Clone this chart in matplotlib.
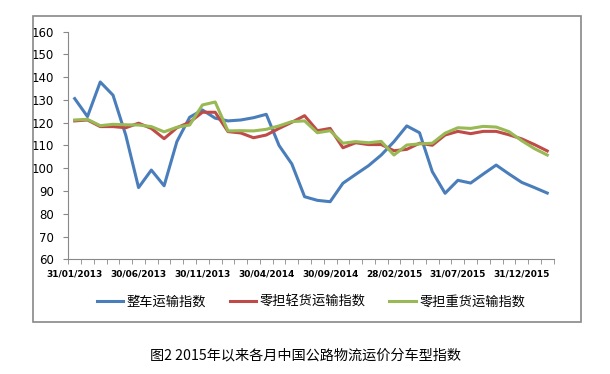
import matplotlib
matplotlib.use("Agg")
import matplotlib.pyplot as plt
from matplotlib.patches import Rectangle
from matplotlib.ticker import MultipleLocator

plt.rcParams['font.family'] = ['Noto Sans CJK SC', 'DejaVu Sans']

# monthly index values, 31/01/2013 .. 29/02/2016
whole_truck = [130.6, 122.7, 137.9, 132.1, 114.5, 91.5, 99.2, 92.3, 111.7, 122.4,
               125.6, 122.0, 120.8, 121.2, 122.2, 123.7, 110.0, 101.9, 87.5, 85.9,
               85.3, 93.4, 97.3, 101.1, 105.8, 111.7, 118.6, 115.6, 98.5, 89.0,
               94.7, 93.5, 97.5, 101.4, 97.5, 93.8, 91.5, 89.1]
ltl_light = [120.8, 121.2, 118.3, 118.3, 117.8, 119.8, 117.5, 113.0, 117.8, 120.2,
             124.6, 124.6, 116.1, 115.5, 113.4, 114.6, 117.5, 120.2, 123.1, 116.5,
             117.5, 109.0, 111.2, 110.4, 110.4, 107.7, 108.3, 111.0, 110.1, 114.6,
             116.2, 115.2, 116.2, 116.2, 114.7, 112.9, 110.4, 107.6]
ltl_heavy = [121.2, 121.5, 118.7, 119.3, 119.1, 119.0, 118.3, 116.0, 118.0, 119.0,
             127.8, 129.1, 116.4, 116.5, 116.4, 117.1, 118.6, 120.5, 120.8, 115.6,
             116.5, 111.0, 111.7, 111.2, 111.8, 105.8, 110.2, 110.7, 111.0, 115.4,
             117.8, 117.5, 118.4, 118.1, 116.1, 112.1, 108.6, 105.8]

tick_pos = [0, 5, 10, 15, 20, 25, 30, 35]
tick_labels = ['31/01/2013', '30/06/2013', '30/11/2013', '30/04/2014',
               '30/09/2014', '28/02/2015', '31/07/2015', '31/12/2015']
names = ['整车运输指数', '零担轻货运输指数', '零担重货运输指数']
colors = ['#4A7EBB', '#BE4B48', '#98B954']

fig = plt.figure(figsize=(6.10, 3.74), dpi=100)
ax = fig.add_axes([0.112, 0.3067, 0.7956, 0.6086])

x = range(len(whole_truck))
for vals, name, c in zip([whole_truck, ltl_light, ltl_heavy], names, colors):
    ax.plot(x, vals, color=c, lw=2.2, label=name, solid_joinstyle='round')

ax.set_xlim(-0.5, len(whole_truck) - 0.5)
ax.set_ylim(60, 160)
ax.yaxis.set_major_locator(MultipleLocator(10))
ax.set_xticks(tick_pos)
ax.set_xticklabels(tick_labels, fontsize=6.5, fontweight='bold', family='DejaVu Sans')
ax.set_xticks([i - 0.5 for i in range(len(whole_truck) + 1)], minor=True)
ax.tick_params(axis='x', which='major', length=0, pad=7)
ax.tick_params(axis='x', which='minor', length=3.5, color='#888888', direction='out')
ax.tick_params(axis='y', length=3.5, color='#888888', labelsize=8.5, pad=7)
for lab in ax.get_yticklabels():
    lab.set_family('DejaVu Sans')
for s in ['top', 'right']:
    ax.spines[s].set_visible(False)
for s in ['left', 'bottom']:
    ax.spines[s].set_color('#888888')

leg = fig.legend(loc='center', bbox_to_anchor=(0.51, 0.193), ncol=3, frameon=False,
                 fontsize=9.5, handlelength=2.0, columnspacing=1.8, handletextpad=0.25)

fig.patches.append(Rectangle((33 / 610, 1 - 322 / 374), 548 / 610, 306 / 374,
                             transform=fig.transFigure, fill=False,
                             edgecolor='#888888', lw=1.2))
fig.text(0.5, 1 - 355 / 374, '图2 2015年以来各月中国公路物流运价分车型指数',
         ha='center', va='center', fontsize=10.2)

fig.savefig('out.png', dpi=100)
